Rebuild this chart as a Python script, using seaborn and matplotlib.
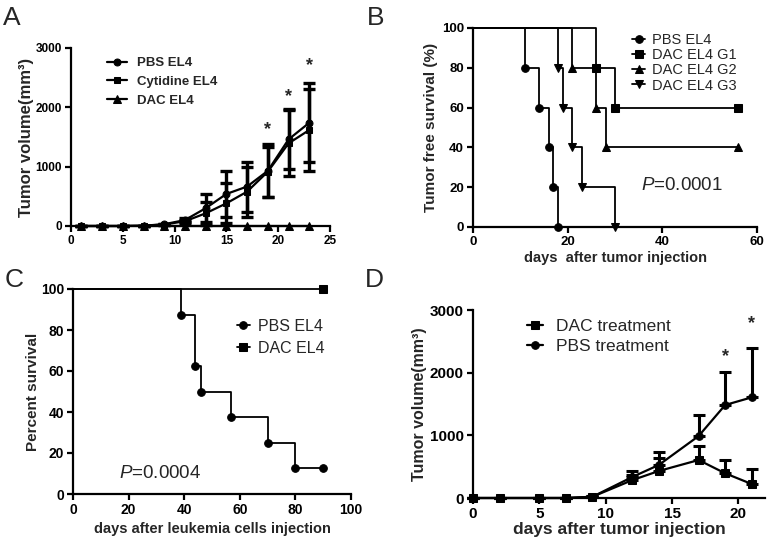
import numpy as np
import matplotlib
matplotlib.use("Agg")
import matplotlib.pyplot as plt
import seaborn as sns

# ---------------- data ----------------
# Panel A
days_A = [1, 3, 5, 7, 9, 11, 13, 15, 17, 19, 21, 23]
pbs_A = [0, 0, 0, 5, 30, 100, 300, 540, 665, 930, 1460, 1740]
pbs_A_err = [0, 0, 0, 0, 10, 30, 236, 387, 421, 447, 505, 665]
cyt_A = [0, 0, 0, 5, 25, 80, 214, 382, 579, 916, 1393, 1618]
cyt_A_err = [0, 0, 0, 0, 10, 25, 196, 338, 421, 421, 557, 686]
dac_A = [0, 0, 0, 0, 0, 0, 0, 0, 0, 0, 0, 0]
star_days_A = [19, 21, 23]
star_y_A = [1620, 2180, 2710]
ticks_A_x = [0, 5, 10, 15, 20, 25]
ticks_A_y = [0, 1000, 2000, 3000]

# Panel B (tumor free survival, Kaplan-Meier)
pbs_B_t = [0, 11, 14, 16, 17, 18]
pbs_B_s = [100, 80, 60, 40, 20, 0]
g1_B_t = [0, 26, 30, 56]
g1_B_s = [100, 80, 60, 60]
g2_B_t = [0, 21, 26, 28, 56]
g2_B_s = [100, 80, 60, 40, 40]
g3_B_t = [0, 18, 19, 21, 23, 30]
g3_B_s = [100, 80, 60, 40, 20, 0]
ticks_B_x = [0, 20, 40, 60]
ticks_B_y = [0, 20, 40, 60, 80, 100]

# Panel C (percent survival)
pbs_C_t = [0, 39, 44, 46, 57, 70, 80, 90]
pbs_C_s = [100, 87.5, 62.5, 50, 37.5, 25, 12.5, 12.5]
dac_C_t = [0, 90]
dac_C_s = [100, 100]
ticks_C_x = [0, 20, 40, 60, 80, 100]
ticks_C_y = [0, 20, 40, 60, 80, 100]

# Panel D
days_D = [0, 2, 5, 7, 9, 12, 14, 17, 19, 21]
dac_D = [0, 0, 0, 0, 20, 285, 431, 606, 394, 223]
dac_D_err = [0, 0, 0, 0, 10, 82, 202, 229, 212, 235]
pbs_D = [0, 0, 0, 0, 20, 335, 527, 989, 1484, 1606]
pbs_D_err = [0, 0, 0, 0, 10, 96, 212, 335, 532, 782]
star_days_D = [19, 21]
star_y_D = [2255, 2790]
ticks_D_x = [0, 5, 10, 15, 20]
ticks_D_y = [0, 1000, 2000, 3000]

# ---------------- style ----------------
sns.set_theme(style="ticks")
plt.rcParams["font.family"] = ["Liberation Sans", "DejaVu Sans"]
plt.rcParams["mathtext.fontset"] = "custom"
plt.rcParams["mathtext.rm"] = "Liberation Sans"
plt.rcParams["mathtext.it"] = "Liberation Sans:italic"
plt.rcParams["mathtext.bf"] = "Liberation Sans:bold"

W, H = 771, 543
fig = plt.figure(figsize=(W / 100, H / 100), dpi=100)


def rect(l, t, r, b):
    return [l / W, 1 - b / H, (r - l) / W, (b - t) / H]


def style_ax(ax, xt, yt, labelsize):
    sns.despine(ax=ax)
    for s in ["left", "bottom"]:
        ax.spines[s].set_linewidth(1.6)
        ax.spines[s].set_color("black")
    ax.set_xticks(xt, labels=[str(v) for v in xt], fontweight="bold",
                  fontsize=labelsize)
    ax.set_yticks(yt, labels=[str(v) for v in yt], fontweight="bold",
                  fontsize=labelsize)
    ax.tick_params(direction="out", length=4.5, width=1.6, pad=2, colors="black")
    ax.set_facecolor("white")


K = "black"

# ---------------- Panel A ----------------
axA = fig.add_axes(rect(71, 48, 330, 226))
axA.errorbar(days_A, pbs_A, yerr=pbs_A_err, fmt="none", ecolor=K, elinewidth=2.4,
             capsize=4, capthick=2.4, clip_on=False)
axA.errorbar(days_A, cyt_A, yerr=cyt_A_err, fmt="none", ecolor=K, elinewidth=2.4,
             capsize=4, capthick=2.4, clip_on=False)
sns.lineplot(x=days_A, y=pbs_A, ax=axA, color=K, marker="o", markersize=5,
             linewidth=1.6, label="PBS EL4", clip_on=False, markeredgecolor=K)
sns.lineplot(x=days_A, y=cyt_A, ax=axA, color=K, marker="s", markersize=5,
             linewidth=1.6, label="Cytidine EL4", clip_on=False, markeredgecolor=K)
sns.lineplot(x=days_A, y=dac_A, ax=axA, color=K, marker="^", markersize=5.5,
             linewidth=1.6, label="DAC EL4", clip_on=False, markeredgecolor=K)
for d, y in zip(star_days_A, star_y_A):
    axA.text(d, y, "*", ha="center", va="center", fontsize=13, fontweight="bold")
axA.set_xlim(0, 25)
axA.set_ylim(0, 3000)
style_ax(axA, ticks_A_x, ticks_A_y, 8.5)
axA.set_ylabel("Tumor volume(mm³)", fontsize=12, fontweight="bold")
axA.yaxis.set_label_coords((34 - 71) / 259, 0.5)
axA.set_xlabel("")
axA.legend(loc="upper left", bbox_to_anchor=(107 / W, 1 - 57 / H),
           bbox_transform=fig.transFigure, frameon=False, borderpad=0,
           borderaxespad=0, handlelength=1.5, handletextpad=0.8,
           labelspacing=0.5, prop={"weight": "bold", "size": 9.5})

# ---------------- Panel B ----------------
axB = fig.add_axes(rect(473, 28, 757, 227))
for t, s, m, lab in [(pbs_B_t, pbs_B_s, "o", "PBS EL4"),
                     (g1_B_t, g1_B_s, "s", "DAC EL4 G1"),
                     (g2_B_t, g2_B_s, "^", "DAC EL4 G2"),
                     (g3_B_t, g3_B_s, "v", "DAC EL4 G3")]:
    sns.lineplot(x=t, y=s, ax=axB, color=K, drawstyle="steps-post", sort=False,
                 estimator=None, linewidth=1.3, marker=m, markersize=5.5,
                 markeredgecolor=K, markevery=list(range(1, len(t))),
                 label=lab, clip_on=False)
axB.set_xlim(0, 60)
axB.set_ylim(0, 100)
style_ax(axB, ticks_B_x, ticks_B_y, 9.5)
axB.set_ylabel("Tumor free survival (%)", fontsize=11, fontweight="bold")
axB.yaxis.set_label_coords((438 - 473) / 284, 0.5)
axB.set_xlabel("days  after tumor injection", fontsize=10.5, fontweight="bold")
axB.xaxis.set_label_coords(0.5, (227 - 251) / 199)
axB.text(35.5, 18.5, r"$\mathit{P}$=0.0001", fontsize=13.5, ha="left", va="baseline")
axB.legend(loc="upper left", bbox_to_anchor=(632 / W, 1 - 33 / H),
           bbox_transform=fig.transFigure, frameon=False, borderpad=0,
           borderaxespad=0, handlelength=0.9, handletextpad=0.5,
           labelspacing=0.08, prop={"size": 10.5})

# ---------------- Panel C ----------------
axC = fig.add_axes(rect(73, 289, 351, 494))
sns.lineplot(x=pbs_C_t, y=pbs_C_s, ax=axC, color=K, drawstyle="steps-post",
             sort=False, estimator=None, linewidth=1.3, marker="o", markersize=5.5,
             markeredgecolor=K, markevery=list(range(1, len(pbs_C_t))),
             label="PBS EL4", clip_on=False)
sns.lineplot(x=dac_C_t, y=dac_C_s, ax=axC, color=K, drawstyle="steps-post",
             sort=False, estimator=None, linewidth=1.3, marker="s", markersize=5.5,
             markeredgecolor=K, markevery=list(range(1, len(dac_C_t))),
             label="DAC EL4", clip_on=False)
axC.set_xlim(0, 100)
axC.set_ylim(0, 100)
style_ax(axC, ticks_C_x, ticks_C_y, 10)
axC.set_ylabel("Percent survival", fontsize=11, fontweight="bold")
axC.yaxis.set_label_coords((40 - 73) / 278, 0.5)
axC.set_xlabel("days after leukemia cells injection", fontsize=10.5, fontweight="bold")
axC.xaxis.set_label_coords(0.5, (494 - 522) / 205)
axC.text(16.5, 7.8, r"$\mathit{P}$=0.0004", fontsize=13.5, ha="left", va="baseline")
axC.legend(loc="upper left", bbox_to_anchor=(237 / W, 1 - 319 / H),
           bbox_transform=fig.transFigure, frameon=False, borderpad=0,
           borderaxespad=0, handlelength=0.8, handletextpad=0.5,
           labelspacing=0.42, prop={"size": 11.5})

# ---------------- Panel D ----------------
axD = fig.add_axes(rect(473, 310, 765, 498))
zeros_D = [0] * len(days_D)
axD.errorbar(days_D, dac_D, yerr=[zeros_D, dac_D_err], fmt="none", ecolor=K,
             elinewidth=2.2, capsize=4, capthick=2.2, clip_on=False)
axD.errorbar(days_D, pbs_D, yerr=[zeros_D, pbs_D_err], fmt="none", ecolor=K,
             elinewidth=2.2, capsize=4, capthick=2.2, clip_on=False)
sns.lineplot(x=days_D, y=dac_D, ax=axD, color=K, marker="s", markersize=5.5,
             linewidth=1.6, label="DAC treatment", clip_on=False, markeredgecolor=K)
sns.lineplot(x=days_D, y=pbs_D, ax=axD, color=K, marker="o", markersize=5.5,
             linewidth=1.6, label="PBS treatment", clip_on=False, markeredgecolor=K)
for d, y in zip(star_days_D, star_y_D):
    axD.text(d, y, "*", ha="center", va="center", fontsize=13, fontweight="bold")
axD.set_xlim(0, 22)
axD.set_ylim(0, 3000)
style_ax(axD, ticks_D_x, ticks_D_y, 11)
axD.set_ylabel("Tumor volume(mm³)", fontsize=11.5, fontweight="bold")
axD.yaxis.set_label_coords((427 - 473) / 292, 0.5)
axD.set_xlabel("days after tumor injection", fontsize=12.5, fontweight="bold")
axD.xaxis.set_label_coords(0.5, (498 - 522) / 188)
axD.legend(loc="upper left", bbox_to_anchor=(527 / W, 1 - 319 / H),
           bbox_transform=fig.transFigure, frameon=False, borderpad=0,
           borderaxespad=0, handlelength=0.95, handletextpad=0.7,
           labelspacing=0.25, prop={"size": 12.5})

# ---------------- panel letters ----------------
for lab, x, y in [("A", 3, 25), ("B", 367, 25), ("C", 5, 287), ("D", 365, 287)]:
    fig.text(x / W, 1 - y / H, lab, fontsize=19, ha="left", va="baseline")

fig.savefig("out.png", dpi=100, facecolor="white")
